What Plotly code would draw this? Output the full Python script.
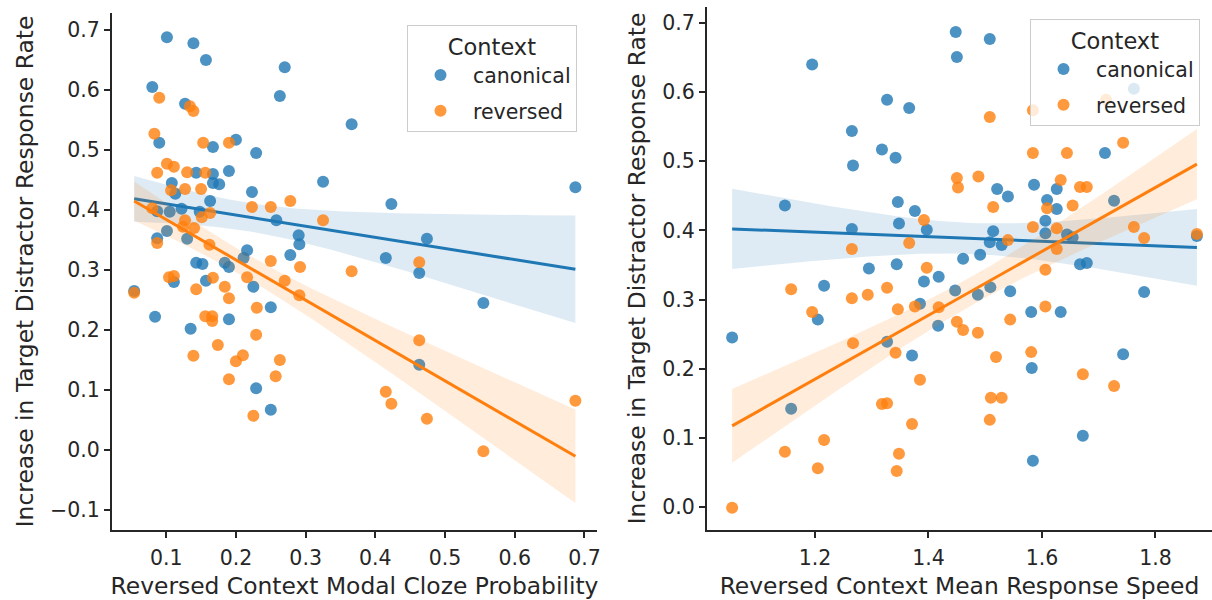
import numpy as np
import plotly.graph_objects as go

# ---- Panel 1: reversed-context modal cloze probability ----
cloze_canonical_x = [0.101, 0.139, 0.157, 0.080, 0.270, 0.263, 0.127, 0.366, 0.090, 0.167,
                     0.200, 0.229, 0.143, 0.167, 0.190, 0.108, 0.113, 0.167, 0.176, 0.223,
                     0.325, 0.423, 0.163, 0.087, 0.105, 0.122, 0.148, 0.258, 0.290, 0.291,
                     0.101, 0.087, 0.130, 0.216, 0.211, 0.278, 0.415, 0.143, 0.152, 0.184,
                     0.190, 0.157, 0.111, 0.225, 0.054, 0.250, 0.084, 0.135, 0.190, 0.229,
                     0.250, 0.463, 0.555, 0.687, 0.474, 0.463]
cloze_canonical_y = [0.688, 0.678, 0.650, 0.605, 0.638, 0.590, 0.577, 0.543, 0.512, 0.505,
                     0.517, 0.495, 0.462, 0.460, 0.465, 0.445, 0.427, 0.445, 0.443, 0.430,
                     0.447, 0.410, 0.415, 0.398, 0.397, 0.402, 0.397, 0.383, 0.358, 0.343,
                     0.365, 0.353, 0.352, 0.333, 0.320, 0.325, 0.320, 0.312, 0.310, 0.312,
                     0.305, 0.282, 0.280, 0.272, 0.265, 0.238, 0.222, 0.202, 0.218, 0.103,
                     0.067, 0.142, 0.245, 0.438, 0.352, 0.295]
cloze_reversed_x = [0.090, 0.134, 0.139, 0.083, 0.153, 0.190, 0.101, 0.111, 0.087, 0.130,
                    0.156, 0.107, 0.127, 0.150, 0.223, 0.250, 0.278, 0.325, 0.080, 0.127,
                    0.124, 0.140, 0.151, 0.163, 0.087, 0.162, 0.250, 0.292, 0.366, 0.216,
                    0.270, 0.104, 0.111, 0.167, 0.143, 0.184, 0.291, 0.054, 0.190, 0.230,
                    0.156, 0.166, 0.166, 0.229, 0.174, 0.139, 0.200, 0.210, 0.263, 0.257,
                    0.190, 0.225, 0.463, 0.415, 0.423, 0.474, 0.555, 0.687, 0.463]
cloze_reversed_y = [0.587, 0.573, 0.565, 0.527, 0.512, 0.512, 0.477, 0.472, 0.462, 0.463,
                    0.462, 0.433, 0.435, 0.435, 0.405, 0.405, 0.415, 0.383, 0.403, 0.383,
                    0.372, 0.370, 0.388, 0.395, 0.345, 0.342, 0.315, 0.305, 0.298, 0.288,
                    0.282, 0.288, 0.290, 0.287, 0.268, 0.272, 0.258, 0.262, 0.253, 0.237,
                    0.223, 0.223, 0.215, 0.192, 0.175, 0.157, 0.148, 0.158, 0.150, 0.123,
                    0.118, 0.057, 0.183, 0.097, 0.077, 0.052, -0.002, 0.082, 0.313]

# ---- Panel 2: reversed-context mean response speed ----
speed_canonical_x = [1.448, 1.450, 1.195, 1.327, 1.366, 1.265, 1.318, 1.342, 1.267, 1.147,
                     1.346, 1.376, 1.348, 1.265, 1.397, 1.295, 1.344, 1.418, 1.392, 1.216,
                     1.447, 1.508, 1.762, 1.711, 1.521, 1.540, 1.586, 1.626, 1.609, 1.626,
                     1.606, 1.514, 1.508, 1.529, 1.606, 1.644, 1.654, 1.727, 1.461, 1.491,
                     1.667, 1.679, 1.780, 1.487, 1.509, 1.544, 1.581, 1.633, 1.385, 1.205,
                     1.054, 1.327, 1.417, 1.371, 1.743, 1.582, 1.158, 1.672, 1.584, 1.873]
speed_canonical_y = [0.687, 0.651, 0.640, 0.589, 0.577, 0.544, 0.517, 0.505, 0.494, 0.436,
                     0.441, 0.428, 0.410, 0.402, 0.401, 0.345, 0.351, 0.333, 0.326, 0.320,
                     0.313, 0.677, 0.605, 0.512, 0.460, 0.449, 0.466, 0.460, 0.444, 0.431,
                     0.414, 0.399, 0.383, 0.379, 0.396, 0.394, 0.390, 0.443, 0.359, 0.365,
                     0.351, 0.353, 0.311, 0.307, 0.318, 0.312, 0.282, 0.282, 0.294, 0.271,
                     0.245, 0.239, 0.262, 0.219, 0.221, 0.201, 0.142, 0.103, 0.067, 0.392]
speed_reversed_x = [1.508, 1.584, 1.713, 1.743, 1.584, 1.644, 1.450, 1.452, 1.488, 1.633,
                    1.667, 1.679, 1.514, 1.609, 1.654, 1.584, 1.626, 1.762, 1.780, 1.873,
                    1.540, 1.626, 1.606, 1.392, 1.265, 1.366, 1.397, 1.158, 1.265, 1.293,
                    1.327, 1.195, 1.346, 1.376, 1.418, 1.450, 1.461, 1.487, 1.544, 1.606,
                    1.267, 1.342, 1.581, 1.519, 1.385, 1.672, 1.727, 1.318, 1.327, 1.510,
                    1.529, 1.371, 1.508, 1.216, 1.147, 1.348, 1.205, 1.344, 1.054]
speed_reversed_y = [0.564, 0.574, 0.589, 0.527, 0.512, 0.512, 0.476, 0.462, 0.478, 0.473,
                    0.463, 0.463, 0.434, 0.432, 0.436, 0.405, 0.403, 0.405, 0.389, 0.395,
                    0.386, 0.373, 0.343, 0.415, 0.373, 0.382, 0.346, 0.315, 0.302, 0.307,
                    0.317, 0.282, 0.286, 0.290, 0.289, 0.268, 0.256, 0.252, 0.271, 0.290,
                    0.237, 0.223, 0.224, 0.217, 0.184, 0.192, 0.175, 0.149, 0.150, 0.158,
                    0.158, 0.120, 0.126, 0.097, 0.080, 0.077, 0.056, 0.052, -0.001]

contexts = ["canonical", "reversed"]
colors = {"canonical": (31, 119, 180), "reversed": (255, 127, 14)}
TEXT = "#262626"
FONT = "DejaVu Sans"
TICK_SIZE = 20.5
LABEL_SIZE = 23.4


def fit_with_band(x, y, n_grid=100, band_scale=1.3):
    """OLS fit plus a shaded band of +/- band_scale standard errors of the mean fit."""
    x = np.asarray(x, float)
    y = np.asarray(y, float)
    slope, intercept = np.polyfit(x, y, 1)
    grid = np.linspace(x.min(), x.max(), n_grid)
    pred = intercept + slope * grid
    resid = y - (intercept + slope * x)
    n = len(x)
    s = np.sqrt(np.sum(resid ** 2) / (n - 2))
    sxx = np.sum((x - x.mean()) ** 2)
    se = s * np.sqrt(1.0 / n + (grid - x.mean()) ** 2 / sxx)
    return grid, pred, pred - band_scale * se, pred + band_scale * se


def rgba(c, a):
    return f"rgba({c[0]},{c[1]},{c[2]},{a})"


fig = go.Figure()

panels = [
    ("x", "y", "legend", {"canonical": (cloze_canonical_x, cloze_canonical_y),
                          "reversed": (cloze_reversed_x, cloze_reversed_y)}),
    ("x2", "y2", "legend2", {"canonical": (speed_canonical_x, speed_canonical_y),
                             "reversed": (speed_reversed_x, speed_reversed_y)}),
]

for xa, ya, leg, data in panels:
    for ctx in contexts:
        xs, ys = data[ctx]
        col = colors[ctx]
        fig.add_trace(go.Scatter(
            x=xs, y=ys, mode="markers", name=ctx, xaxis=xa, yaxis=ya,
            legend=leg, legendgroup=ctx,
            marker=dict(size=12, color=rgba(col, 0.8), line=dict(width=0)),
            showlegend=True, hoverinfo="skip"))
        grid, pred, lo, hi = fit_with_band(xs, ys)
        fig.add_trace(go.Scatter(
            x=np.concatenate([grid, grid[::-1]]),
            y=np.concatenate([hi, lo[::-1]]),
            fill="toself", fillcolor=rgba(col, 0.15), line=dict(width=0),
            mode="lines", xaxis=xa, yaxis=ya, showlegend=False, hoverinfo="skip"))
        fig.add_trace(go.Scatter(
            x=grid, y=pred, mode="lines", xaxis=xa, yaxis=ya,
            line=dict(color=rgba(col, 1), width=3), showlegend=False, hoverinfo="skip"))

H_PLOT = 530.0

axis_common = dict(
    showline=True, linecolor=TEXT, linewidth=2, ticks="outside", ticklen=6,
    tickwidth=2, tickcolor=TEXT, showgrid=False, zeroline=False, mirror=False,
    tickfont=dict(family=FONT, size=TICK_SIZE, color=TEXT), automargin=False,
)
title_font = dict(family=FONT, size=LABEL_SIZE, color=TEXT)
legend_title_font = dict(family=FONT, size=22.5, color=TEXT)


def legend_style(x, y):
    return dict(x=x, y=y, xanchor="left", yanchor="top",
                bgcolor="rgba(255,255,255,0.8)", bordercolor="#cccccc", borderwidth=1,
                font=dict(family=FONT, size=TICK_SIZE, color=TEXT),
                title=dict(text="Context", side="top center", font=legend_title_font),
                tracegroupgap=6, traceorder="grouped", itemwidth=55)


fig.update_layout(
    width=1212, height=600,
    margin=dict(l=0, r=0, t=0, b=70),
    plot_bgcolor="white", paper_bgcolor="white",
    font=dict(family=FONT, color=TEXT),
    xaxis=dict(axis_common, domain=[112 / 1212, 597 / 1212], range=[0.0222, 0.718],
               tickvals=[0.1, 0.2, 0.3, 0.4, 0.5, 0.6, 0.7], tickformat=".1f",
               ticklabelstandoff=2,
               title=dict(text="Reversed Context Modal Cloze Probability",
                          font=title_font, standoff=9),
               anchor="y"),
    yaxis=dict(axis_common, domain=[0, 1 - 13 / H_PLOT], range=[-0.1333, 0.7283],
               tickvals=[-0.1, 0.0, 0.1, 0.2, 0.3, 0.4, 0.5, 0.6, 0.7], tickformat=".1f",
               title=dict(text="Increase in Target Distractor Response Rate",
                          font=title_font, standoff=10),
               anchor="x"),
    xaxis2=dict(axis_common, domain=[707 / 1212, 1.0], range=[1.0097, 1.8996],
                tickvals=[1.2, 1.4, 1.6, 1.8], tickformat=".1f",
                ticklabelstandoff=2,
                title=dict(text="Reversed Context Mean Response Speed",
                           font=title_font, standoff=9),
                anchor="y2"),
    yaxis2=dict(axis_common, domain=[0, 1 - 7 / H_PLOT], range=[-0.0333, 0.7232],
                tickvals=[0.0, 0.1, 0.2, 0.3, 0.4, 0.5, 0.6, 0.7], tickformat=".1f",
                title=dict(text="Increase in Target Distractor Response Rate",
                           font=title_font, standoff=10),
                anchor="x2"),
    legend=legend_style(407 / 1212, 1 - 25 / H_PLOT),
    legend2=legend_style(1030 / 1212, 1 - 19 / H_PLOT),
)

fig.write_html("out.html")
